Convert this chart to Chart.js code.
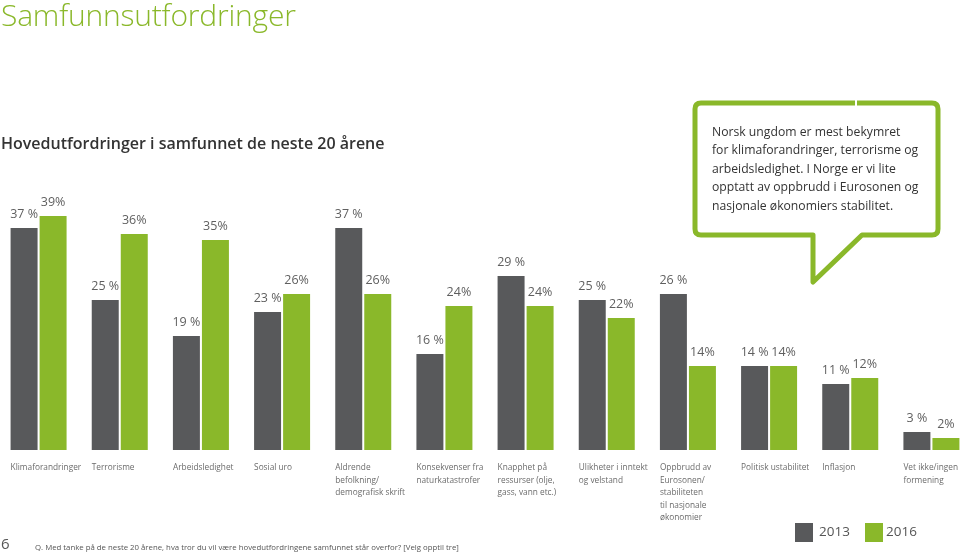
<!DOCTYPE html>
<html>
<head>
<meta charset="utf-8">
<script src="https://cdn.jsdelivr.net/npm/chart.js@4/dist/chart.umd.min.js"></script>
<style>
  html, body { margin: 0; padding: 0; background: #fff; }
  body { width: 960px; height: 554px; position: relative; overflow: hidden; font-family: "Open Sans", sans-serif; }
  #graph { position: absolute; left: -2px; top: 0; }
  .txt { position: absolute; white-space: nowrap; }
  #title { left: 1px; top: 0px; font-size: 30px; line-height: 30px; font-weight: 300; color: #8ab82a; letter-spacing: -0.2px; }
  #sub { left: 1px; top: 135px; font-size: 16px; line-height: 16px; font-weight: 600; color: #333; }
  #note { left: 712px; top: 123px; font-size: 12.2px; line-height: 18.4px; color: #333; }
  .sw { position: absolute; width: 18px; height: 19px; top: 523px; }
  .lg { top: 525px; font-size: 13.5px; line-height: 13.5px; color: #555; }
  #page { left: 1px; top: 536px; font-size: 15px; line-height: 15px; color: #555; }
  #q { left: 35px; top: 543px; font-size: 7.8px; line-height: 8px; color: #555; }
</style>
</head>
<body>
<canvas id="graph" width="974" height="554"></canvas>

<div id="title" class="txt">Samfunnsutfordringer</div>
<div id="sub" class="txt">Hovedutfordringer i samfunnet de neste 20 årene</div>

<svg width="960" height="554" style="position:absolute;left:0;top:0;">
  <path d="M 701 103 H 932 Q 938 103 938 109 V 229 Q 938 235 932 235 H 862 L 813 282 V 235 H 701 Q 695 235 695 229 V 109 Q 695 103 701 103 Z"
        fill="#fff" stroke="#8ab82a" stroke-width="5" stroke-linejoin="round"/>
  <rect x="855" y="99" width="2" height="8" fill="#fff"/>
</svg>
<div id="note" class="txt">Norsk ungdom er mest bekymret<br>for klimaforandringer, terrorisme og<br>arbeidsledighet. I Norge er vi lite<br>opptatt av oppbrudd i Eurosonen og<br>nasjonale økonomiers stabilitet.</div>

<div class="sw" style="left:795px;background:#58595b;"></div>
<div class="txt lg" style="left:819px;">2013</div>
<div class="sw" style="left:865px;background:#8ab82a;"></div>
<div class="txt lg" style="left:886px;">2016</div>

<div id="page" class="txt">6</div>
<div id="q" class="txt">Q. Med tanke på de neste 20 årene, hva tror du vil være hovedutfordringene samfunnet står overfor? [Velg opptil tre]</div>

<script>
var categories = [
	["Klimaforandringer"],
	["Terrorisme"],
	["Arbeidsledighet"],
	["Sosial uro"],
	["Aldrende", "befolkning/", "demografisk skrift"],
	["Konsekvenser fra", "naturkatastrofer"],
	["Knapphet på", "ressurser (olje,", "gass, vann etc.)"],
	["Ulikheter i inntekt", "og velstand"],
	["Oppbrudd av", "Eurosonen/", "stabiliteten", "til nasjonale", "økonomier"],
	["Politisk ustabilitet"],
	["Inflasjon"],
	["Vet ikke/ingen", "formening"]
];
var years = ["2013", "2016"];
var values2013 = [37, 25, 19, 23, 37, 16, 29, 25, 26, 14, 11, 3];
var values2016 = [39, 36, 35, 26, 26, 24, 24, 22, 14, 14, 12, 2];

var grey = "#58595b";
var green = "#8ab82a";

// value labels above each bar ("37 %" for 2013, "39%" for 2016)
var valueLabels = {
	id: "valueLabels",
	afterDatasetsDraw: function(chart) {
		var ctx = chart.ctx;
		ctx.save();
		ctx.font = "12.5px 'Open Sans'";
		ctx.fillStyle = "#5f5f5f";
		ctx.textAlign = "center";
		ctx.textBaseline = "alphabetic";
		chart.data.datasets.forEach(function(ds, di) {
			chart.getDatasetMeta(di).data.forEach(function(bar, i) {
				var txt = di === 0 ? ds.data[i] + " %" : ds.data[i] + "%";
				ctx.fillText(txt, bar.x, bar.y - 10);
			});
		});
		ctx.restore();
	}
};

// category names under the bars, left aligned at the first bar of the group
var categoryLabels = {
	id: "categoryLabels",
	afterDraw: function(chart) {
		var ctx = chart.ctx;
		var meta = chart.getDatasetMeta(0);
		ctx.save();
		ctx.font = "8.3px 'Open Sans'";
		ctx.fillStyle = "#6b6b6b";
		ctx.textAlign = "left";
		ctx.textBaseline = "alphabetic";
		chart.data.labels.forEach(function(lines, i) {
			var bar = meta.data[i];
			var left = bar.x - bar.width / 2;
			lines.forEach(function(line, k) {
				ctx.fillText(line, left, chart.chartArea.bottom + 20 + k * 12.5);
			});
		});
		ctx.restore();
	}
};

var ctx = document.getElementById("graph").getContext("2d");
var myChart = new Chart(ctx, {
	type: "bar",
	data: {
		labels: categories,
		datasets: [
			{ label: years[0], data: values2013, backgroundColor: grey, borderWidth: 0 },
			{ label: years[1], data: values2016, backgroundColor: green, borderWidth: 0 }
		]
	},
	options: {
		responsive: false,
		animation: false,
		events: [],
		layout: { padding: { top: 150, bottom: 104, left: 0, right: 0 } },
		categoryPercentage: 0.715,
		barPercentage: 0.93,
		plugins: {
			legend: { display: false },
			tooltip: { enabled: false }
		},
		scales: {
			x: { display: false },
			y: { display: false, min: 0, max: 50 }
		}
	},
	plugins: [valueLabels, categoryLabels]
});
</script>
</body>
</html>
